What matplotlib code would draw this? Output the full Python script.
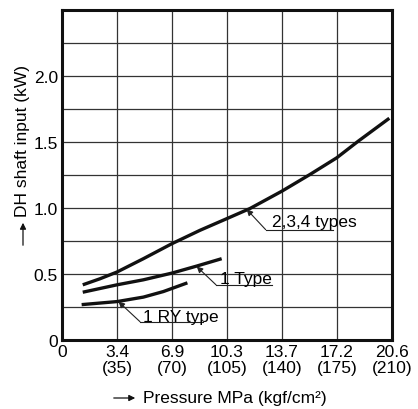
import matplotlib
matplotlib.use("Agg")
import matplotlib.pyplot as plt
from matplotlib.patches import FancyArrowPatch

plt.rcParams['font.family'] = ['Liberation Sans', 'DejaVu Sans']

# Data (x in kgf/cm2, y in kW)
x_234 = [13.2, 24.2, 35, 51.8, 70, 87.8, 105, 119.6, 140, 157.8, 174.8, 188.6, 208.3]
y_234 = [0.418, 0.464, 0.515, 0.616, 0.73, 0.831, 0.92, 0.996, 1.128, 1.254, 1.38, 1.507, 1.68]
x_1 = [13.2, 35, 51.8, 70, 85.7, 101.6]
y_1 = [0.362, 0.418, 0.456, 0.507, 0.56, 0.616]
x_1ry = [12.5, 35, 51.8, 64.5, 79.8]
y_1ry = [0.268, 0.291, 0.325, 0.367, 0.433]

x_ticks = [0, 35, 70, 105, 140, 175, 210]
x_tick_labels = ["0", "3.4\n(35)", "6.9\n(70)", "10.3\n(105)", "13.7\n(140)",
                 "17.2\n(175)", "20.6\n(210)"]
y_ticks = [0, 0.5, 1.0, 1.5, 2.0]
y_tick_labels = ["0", "0.5", "1.0", "1.5", "2.0"]
y_grid = [0.25, 0.5, 0.75, 1.0, 1.25, 1.5, 1.75, 2.0, 2.25]

FS = 12.5

fig = plt.figure(figsize=(4.18, 4.10), dpi=100)
ax = fig.add_axes([62/418, 1-341/410, 330/418, 330/410])
ax.set_xlim(0, 210)
ax.set_ylim(0, 2.5)

for gy in y_grid:
    ax.axhline(gy, color='#333333', lw=0.9, zorder=1)
for gx in x_ticks[1:-1]:
    ax.axvline(gx, color='#333333', lw=0.9, zorder=1)

for xs, ys in [(x_234, y_234), (x_1, y_1), (x_1ry, y_1ry)]:
    ax.plot(xs, ys, color='#111111', lw=2.4, solid_capstyle='butt',
            solid_joinstyle='round', zorder=3)

ax.set_xticks(x_ticks)
ax.set_xticklabels(x_tick_labels, fontsize=FS, linespacing=1.05)
ax.set_yticks(y_ticks)
ax.set_yticklabels(y_tick_labels, fontsize=FS)
ax.tick_params(length=0, pad=3)
for s in ax.spines.values():
    s.set_linewidth(2.2)
    s.set_color('#111111')

# Annotations: (tip, elbow, end, label, text position)
annots = [
    ((117.5, 0.99), (129.6, 0.836), 172.7, "2,3,4 types", (133.4, 0.866)),
    ((85.7, 0.557), (98.0, 0.418), 133.4, "1 Type", (100.5, 0.435)),
    ((35.9, 0.291), (49.6, 0.139), 90.0, "1 RY type", (51.7, 0.147)),
]
for tip, elbow, end, label, tpos in annots:
    ax.annotate('', xy=tip, xytext=elbow,
                arrowprops=dict(arrowstyle='-|>', lw=0.8, color='#222222',
                                mutation_scale=9, shrinkA=0, shrinkB=0),
                zorder=4)
    ax.plot([elbow[0], end], [elbow[1], elbow[1]], color='#222222', lw=0.8, zorder=4)
    ax.text(tpos[0], tpos[1], label, fontsize=FS, ha='left', va='baseline', zorder=5)

# Axis labels with arrows
fig.text(143/418, 1-399/410, "Pressure MPa (kgf/cm\u00b2)", fontsize=FS,
         ha='left', va='center')
fig.add_artist(FancyArrowPatch(
    (111/418, 1-399/410), (138/418, 1-399/410), transform=fig.transFigure,
    arrowstyle='-|>', mutation_scale=9, lw=0.9, color='#111111'))

fig.text(23/418, 1-141/410, "DH shaft input (kW)", fontsize=FS, rotation=90,
         ha='center', va='center')
fig.add_artist(FancyArrowPatch(
    (23/418, 1-249/410), (23/418, 1-221/410), transform=fig.transFigure,
    arrowstyle='-|>', mutation_scale=9, lw=0.9, color='#111111'))

fig.savefig("out.png", dpi=100, facecolor='white')
